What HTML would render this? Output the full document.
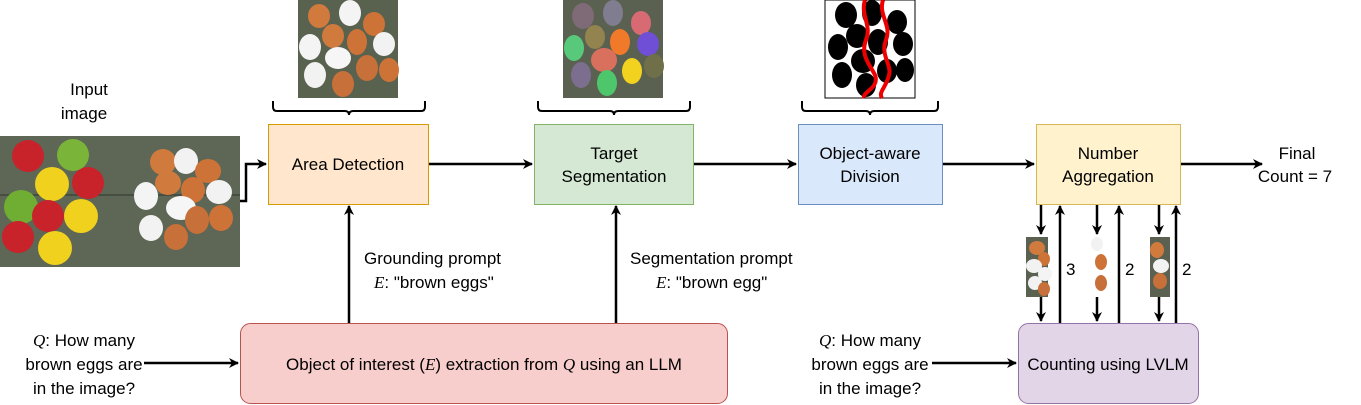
<!DOCTYPE html>
<html><head><meta charset="utf-8"><style>
body{margin:0;background:#fff}
svg{display:block}
text{font-family:"Liberation Sans",sans-serif;font-size:17px;fill:#000}
.m{font-family:"Liberation Serif",serif;font-style:italic}
</style></head><body>
<svg width="1361" height="405" viewBox="0 0 1361 405" xmlns="http://www.w3.org/2000/svg">
<defs>
<marker id="a" markerWidth="10" markerHeight="10" refX="9" refY="5" orient="auto" markerUnits="userSpaceOnUse"><path d="M0,0 L10,5 L0,10 L3,5 z" fill="#000"/></marker>
</defs>
<!-- input photo -->
<rect x="0" y="136" width="240" height="131" fill="#5e6656"/>
<line x1="0" y1="195" x2="240" y2="195" stroke="#3f463a" stroke-width="1.5"/>
<circle cx="28" cy="156" r="16" fill="#c8232a"/><circle cx="73" cy="155" r="16" fill="#7ab53a"/>
<circle cx="52" cy="184" r="17" fill="#f0d21e"/><circle cx="88" cy="183" r="16" fill="#c8232a"/>
<circle cx="21" cy="207" r="17" fill="#6fae33"/><circle cx="48" cy="216" r="16" fill="#c8232a"/>
<circle cx="81" cy="216" r="17" fill="#f0d21e"/><circle cx="18" cy="237" r="16" fill="#c8232a"/>
<circle cx="55" cy="248" r="17" fill="#f0d21e"/>
<ellipse cx="163" cy="162" rx="13" ry="13" fill="#d07a3e"/><ellipse cx="186" cy="161" rx="12" ry="13" fill="#f2f2f2"/>
<ellipse cx="208" cy="171" rx="13" ry="12" fill="#cd7338"/><ellipse cx="146" cy="196" rx="12" ry="14" fill="#f4f4f4"/>
<ellipse cx="168" cy="183" rx="13" ry="12" fill="#d07a3e"/><ellipse cx="193" cy="190" rx="12" ry="13" fill="#cd7338"/>
<ellipse cx="219" cy="192" rx="13" ry="12" fill="#f2f2f2"/><ellipse cx="181" cy="208" rx="15" ry="12" fill="#f6f6f6"/>
<ellipse cx="151" cy="228" rx="12" ry="13" fill="#f2f2f2"/><ellipse cx="197" cy="220" rx="12" ry="14" fill="#c8703a"/>
<ellipse cx="221" cy="218" rx="12" ry="13" fill="#cd7338"/><ellipse cx="176" cy="237" rx="12" ry="13" fill="#c8703a"/>
<text x="89" y="95" text-anchor="middle">Input</text><text x="84" y="119" text-anchor="middle">image</text>
<!-- top image 1 -->
<rect x="298" y="0" width="100" height="98" fill="#59614f"/>
<ellipse cx="319" cy="16" rx="11" ry="12" fill="#d07a3e"/><ellipse cx="350" cy="13" rx="11" ry="13" fill="#f4f4f4"/>
<ellipse cx="374" cy="24" rx="11" ry="12" fill="#cd7338"/><ellipse cx="333" cy="36" rx="11" ry="12" fill="#d07a3e"/>
<ellipse cx="357" cy="42" rx="10" ry="13" fill="#cd7338"/><ellipse cx="384" cy="44" rx="11" ry="12" fill="#f2f2f2"/>
<ellipse cx="310" cy="47" rx="11" ry="13" fill="#f4f4f4"/><ellipse cx="338" cy="58" rx="13" ry="11" fill="#f6f6f6"/>
<ellipse cx="367" cy="68" rx="11" ry="13" fill="#c8703a"/><ellipse cx="389" cy="70" rx="10" ry="12" fill="#cd7338"/>
<ellipse cx="315" cy="75" rx="11" ry="13" fill="#f2f2f2"/><ellipse cx="343" cy="84" rx="11" ry="13" fill="#c8703a"/>
<!-- top image 2 -->
<rect x="563" y="0" width="100" height="98" fill="#5a6150"/>
<ellipse cx="583" cy="16" rx="11" ry="13" fill="#7f6a78"/><ellipse cx="613" cy="13" rx="10" ry="13" fill="#7f7d8f"/>
<ellipse cx="641" cy="23" rx="10" ry="12" fill="#d86a74"/><ellipse cx="595" cy="37" rx="10" ry="12" fill="#93834f"/>
<ellipse cx="620" cy="42" rx="10" ry="13" fill="#f07a2a"/><ellipse cx="648" cy="44" rx="11" ry="12" fill="#6e4fd6"/>
<ellipse cx="574" cy="48" rx="10" ry="13" fill="#58c87a"/><ellipse cx="604" cy="60" rx="13" ry="12" fill="#d9705d"/>
<ellipse cx="632" cy="71" rx="10" ry="13" fill="#f2d21f"/><ellipse cx="654" cy="66" rx="10" ry="12" fill="#6f6f4a"/>
<ellipse cx="581" cy="75" rx="10" ry="13" fill="#7c6e8f"/><ellipse cx="607" cy="83" rx="10" ry="13" fill="#4ec66c"/>
<!-- top image 3 -->
<rect x="825" y="0" width="90" height="98" fill="#fff" stroke="#000" stroke-width="1"/>
<ellipse cx="846" cy="15" rx="11" ry="13" fill="#000"/><ellipse cx="872" cy="13" rx="10" ry="13" fill="#000"/>
<ellipse cx="897" cy="22" rx="10" ry="12" fill="#000"/><ellipse cx="857" cy="36" rx="11" ry="12" fill="#000"/>
<ellipse cx="878" cy="42" rx="10" ry="13" fill="#000"/><ellipse cx="903" cy="44" rx="10" ry="12" fill="#000"/>
<ellipse cx="838" cy="47" rx="10" ry="13" fill="#000"/><ellipse cx="863" cy="61" rx="12" ry="12" fill="#000"/>
<ellipse cx="887" cy="71" rx="10" ry="12" fill="#000"/><ellipse cx="905" cy="70" rx="9" ry="12" fill="#000"/>
<ellipse cx="842" cy="75" rx="10" ry="13" fill="#000"/><ellipse cx="866" cy="85" rx="10" ry="12" fill="#000"/>
<path d="M865,0 C860,15 872,25 866,40 C860,55 870,65 875,75 C880,88 862,92 864,98" stroke="#e00" stroke-width="4" fill="none"/>
<path d="M883,0 C878,15 892,25 886,40 C880,55 892,65 889,75 C886,88 878,92 882,98" stroke="#e00" stroke-width="4" fill="none"/>
<!-- braces -->
<g stroke="#000" stroke-width="2" fill="none">
<path d="M273,101 v6 q0,4 4,4 h68 q4,0 4,4 q0,-4 4,-4 h68 q4,0 4,-4 v-6"/>
<path d="M538,101 v6 q0,4 4,4 h68 q4,0 4,4 q0,-4 4,-4 h68 q4,0 4,-4 v-6"/>
<path d="M802,101 v6 q0,4 4,4 h60 q4,0 4,4 q0,-4 4,-4 h60 q4,0 4,-4 v-6"/>
</g>
<!-- boxes -->
<rect x="268.5" y="124.5" width="160" height="80" fill="#ffe6cc" stroke="#d79b00"/>
<rect x="534.5" y="124.5" width="159" height="80" fill="#d5e8d4" stroke="#82b366"/>
<rect x="798.5" y="124.5" width="144" height="80" fill="#dae8fc" stroke="#6c8ebf"/>
<rect x="1036.5" y="124.5" width="144" height="80" fill="#fff2cc" stroke="#d6b656"/>
<rect x="240.5" y="323.5" width="487" height="80" rx="10" fill="#f8cecc" stroke="#b85450"/>
<rect x="1018.5" y="323.5" width="180" height="80" rx="10" fill="#e1d5e7" stroke="#9673a6"/>
<text x="348" y="170" text-anchor="middle">Area Detection</text>
<text x="614" y="159" text-anchor="middle">Target</text><text x="614" y="182" text-anchor="middle">Segmentation</text>
<text x="870" y="159" text-anchor="middle">Object-aware</text><text x="870" y="182" text-anchor="middle">Division</text>
<text x="1108" y="159" text-anchor="middle">Number</text><text x="1108" y="182" text-anchor="middle">Aggregation</text>
<text x="484" y="370" text-anchor="middle">Object of interest (<tspan class="m">E</tspan>) extraction from <tspan class="m">Q</tspan> using an LLM</text>
<text x="1108" y="370" text-anchor="middle">Counting using LVLM</text>
<text x="1297" y="159" text-anchor="middle">Final</text><text x="1295" y="182" text-anchor="middle">Count = 7</text>
<text x="84" y="346" text-anchor="middle"><tspan class="m">Q</tspan>: How many</text>
<text x="84" y="370" text-anchor="middle">brown eggs are</text>
<text x="84" y="394" text-anchor="middle">in the image?</text>
<text x="870" y="346" text-anchor="middle"><tspan class="m">Q</tspan>: How many</text>
<text x="870" y="370" text-anchor="middle">brown eggs are</text>
<text x="870" y="394" text-anchor="middle">in the image?</text>
<text x="364" y="264">Grounding  prompt</text>
<text x="374" y="288"><tspan class="m">E</tspan>: "brown eggs"</text>
<text x="630" y="264">Segmentation prompt</text>
<text x="656" y="288"><tspan class="m">E</tspan>: "brown egg"</text>
<!-- arrows -->
<g stroke="#000" stroke-width="2.5" fill="none" marker-end="url(#a)">
<path d="M240,201 H246 V164 H266"/>
<path d="M429,164 H532"/>
<path d="M694,164 H796"/>
<path d="M943,164 H1034"/>
<path d="M1181,164 H1262"/>
<path d="M349,323 V206"/>
<path d="M616,323 V206"/>
<path d="M144,363 H238"/>
<path d="M932,363 H1016"/>
<path d="M1041,205 V234"/><path d="M1041,297 V321"/><path d="M1060,323 V206"/>
<path d="M1097,205 V234"/><path d="M1097,297 V321"/><path d="M1119,323 V206"/>
<path d="M1159,205 V234"/><path d="M1159,297 V321"/><path d="M1176,323 V206"/>
</g>
<!-- small crops -->
<rect x="1026" y="237" width="22" height="60" fill="#5a6150"/>
<ellipse cx="1037" cy="248" rx="8" ry="7" fill="#d07a3e"/><ellipse cx="1044" cy="259" rx="6" ry="7" fill="#cd7338"/>
<ellipse cx="1034" cy="266" rx="8" ry="7" fill="#f2f2f2"/><ellipse cx="1045" cy="274" rx="7" ry="7" fill="#f4f4f4"/>
<ellipse cx="1035" cy="283" rx="7" ry="7" fill="#f2f2f2"/><ellipse cx="1044" cy="289" rx="6" ry="7" fill="#c8703a"/>
<ellipse cx="1097" cy="244" rx="6" ry="7" fill="#f2f2f2"/><ellipse cx="1101" cy="262" rx="6" ry="8" fill="#cd7338"/>
<ellipse cx="1101" cy="283" rx="6" ry="8" fill="#c8703a"/>
<rect x="1150" y="237" width="20" height="60" fill="#5a6150"/>
<ellipse cx="1157" cy="250" rx="7" ry="8" fill="#d07a3e"/><ellipse cx="1161" cy="266" rx="8" ry="7" fill="#f2f2f2"/>
<ellipse cx="1160" cy="281" rx="7" ry="8" fill="#c8703a"/>
<text x="1066" y="275">3</text><text x="1125" y="275">2</text><text x="1182" y="275">2</text>
</svg>
</body></html>
